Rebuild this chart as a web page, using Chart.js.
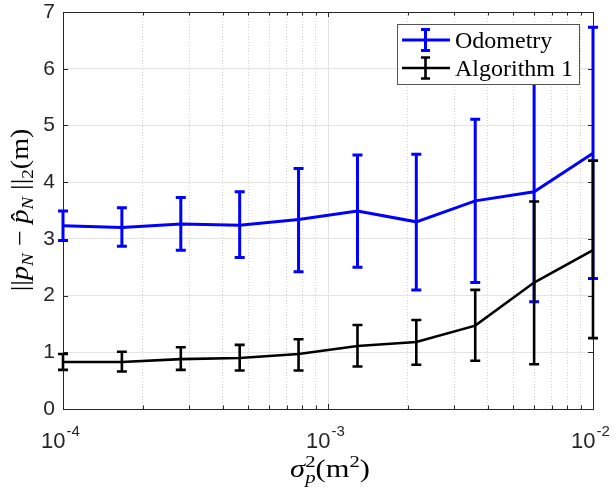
<!DOCTYPE html>
<html>
<head>
<meta charset="utf-8">
<script src="https://cdn.jsdelivr.net/npm/chart.js@4.4.1/dist/chart.umd.min.js"></script>
<style>
  html, body { margin: 0; padding: 0; background: #fff; }
</style>
</head>
<body>
<canvas id="chart" width="616" height="488"></canvas>
<script>
// position noise variance (x axis)
const sigmaP2 = [1e-4, 1.668e-4, 2.783e-4, 4.642e-4, 7.743e-4, 1.292e-3, 2.154e-3, 3.594e-3, 5.995e-3, 1e-2];

const seriesNames = ["Odometry", "Algorithm 1"];

// Odometry: mean and error bar ends
const odoMean = [3.23, 3.20, 3.26, 3.24, 3.34, 3.49, 3.30, 3.67, 3.83, 4.51];
const odoLow  = [2.97, 2.87, 2.80, 2.67, 2.42, 2.50, 2.10, 2.23, 1.89, 2.30];
const odoHigh = [3.49, 3.55, 3.73, 3.83, 4.24, 4.48, 4.49, 5.11, 5.77, 6.73];

// Algorithm 1: mean and error bar ends
const algMean = [0.83, 0.83, 0.88, 0.90, 0.97, 1.11, 1.18, 1.47, 2.23, 2.80];
const algLow  = [0.69, 0.66, 0.69, 0.68, 0.68, 0.75, 0.78, 0.85, 0.79, 1.25];
const algHigh = [0.97, 1.01, 1.09, 1.13, 1.23, 1.48, 1.57, 2.10, 3.66, 4.38];

// ticks
const xGridValues = [1e-4, 2e-4, 3e-4, 4e-4, 5e-4, 6e-4, 7e-4, 8e-4, 9e-4,
                     1e-3, 2e-3, 3e-3, 4e-3, 5e-3, 6e-3, 7e-3, 8e-3, 9e-3, 1e-2];
const xTickValues = [1e-4, 1e-3, 1e-2];
const xTickExps = ["-4", "-3", "-2"];
const yTicks = [0, 1, 2, 3, 4, 5, 6, 7];

const BLUE = "#0000ff";
const BLACK = "#000000";
const AXIS = "#262626";
const SERIF = "'Liberation Serif', 'DejaVu Serif', serif";
const SANS = "'Liberation Sans', Arial, sans-serif";

function isMajor(v) {
  const l = Math.log10(v);
  return Math.abs(l - Math.round(l)) < 1e-9;
}

// draw a run of text pieces: [text, size, italic, dy, "stack"?]
// stretch widens the run a bit, the math font in the picture is wider than Times
function richText(ctx, parts, x, y, stretch) {
  let total = 0;
  parts.forEach(p => {
    ctx.font = (p[2] ? "italic " : "") + p[1] + "px " + SERIF;
    p.w = p[4] === "stack" ? 0 : ctx.measureText(p[0]).width;
    total += p.w;
  });
  ctx.save();
  ctx.translate(x, y);
  ctx.scale(stretch, 1);
  let cx = -total / 2;
  ctx.textAlign = "left";
  ctx.textBaseline = "alphabetic";
  parts.forEach(p => {
    ctx.font = (p[2] ? "italic " : "") + p[1] + "px " + SERIF;
    ctx.fillText(p[0], cx, p[3]);
    cx += p.w;
  });
  ctx.restore();
}

function errorBars(ctx, meta, lows, highs, yScale, color, width) {
  ctx.save();
  ctx.strokeStyle = color;
  ctx.lineWidth = width;
  ctx.lineCap = "butt";
  meta.data.forEach((pt, i) => {
    const y1 = yScale.getPixelForValue(lows[i]);
    const y2 = yScale.getPixelForValue(highs[i]);
    ctx.beginPath();
    ctx.moveTo(pt.x, y1); ctx.lineTo(pt.x, y2);
    ctx.moveTo(pt.x - 5, y1); ctx.lineTo(pt.x + 5, y1);
    ctx.moveTo(pt.x - 5, y2); ctx.lineTo(pt.x + 5, y2);
    ctx.stroke();
  });
  ctx.restore();
}

const decor = {
  id: "decor",
  beforeDatasetsDraw(chart) {
    const { ctx, chartArea: a, scales } = chart;
    ctx.save();
    ctx.strokeStyle = AXIS;
    ctx.lineWidth = 1;
    ctx.beginPath();
    yTicks.forEach(v => {
      const y = Math.round(scales.y.getPixelForValue(v)) + 0.5;
      ctx.moveTo(a.left, y); ctx.lineTo(a.left + 5, y);
      ctx.moveTo(a.right, y); ctx.lineTo(a.right - 5, y);
    });
    xGridValues.forEach(v => {
      const x = Math.round(scales.x.getPixelForValue(v)) + 0.5;
      const len = isMajor(v) ? 5 : 3.5;
      ctx.moveTo(x, a.bottom); ctx.lineTo(x, a.bottom - len);
      ctx.moveTo(x, a.top); ctx.lineTo(x, a.top + len);
    });
    ctx.stroke();
    ctx.strokeRect(Math.round(a.left) + 0.5, Math.round(a.top) + 0.5,
                   Math.round(a.right - a.left), Math.round(a.bottom - a.top));
    ctx.restore();
  },
  afterDatasetDraw(chart, args) {
    const yScale = chart.scales.y;
    if (args.index === 0) errorBars(chart.ctx, args.meta, odoLow, odoHigh, yScale, BLUE, 3);
    else errorBars(chart.ctx, args.meta, algLow, algHigh, yScale, BLACK, 2.6);
  },
  afterDraw(chart) {
    const { ctx, scales } = chart;
    ctx.save();
    ctx.fillStyle = AXIS;

    // x tick labels 10^n
    xTickValues.forEach((v, i) => {
      const x = scales.x.getPixelForValue(v) - 3;
      ctx.font = "22px " + SANS;
      const w1 = ctx.measureText("10").width;
      ctx.font = "15px " + SANS;
      const w2 = ctx.measureText(xTickExps[i]).width;
      const x0 = x - (w1 + w2) / 2;
      ctx.textAlign = "left";
      ctx.textBaseline = "alphabetic";
      ctx.font = "22px " + SANS;
      ctx.fillText("10", x0, 448);
      ctx.font = "15px " + SANS;
      ctx.fillText(xTickExps[i], x0 + w1 + 1, 436);
    });

    // x axis title: sigma_p^2 (m^2)
    ctx.fillStyle = BLACK;
    const xt = [["σ", 25, true, 0], ["2", 17, false, -10, "stack"], ["p", 17, true, 6],
                ["(m", 25, false, 0], ["2", 17, false, -10], [")", 25, false, 0]];
    richText(ctx, xt, 330, 477, 1.22);

    // y axis title: ||p_N - p^_N||_2 (m)
    ctx.save();
    ctx.translate(28, 210);
    ctx.rotate(-Math.PI / 2);
    const yt = [["||", 25, false, 0], ["p", 25, true, 0], ["N", 17, true, 5],
                [" − ", 25, false, 0], ["p̂", 25, true, 0], ["N", 17, true, 5],
                [" ||", 25, false, 0], ["2", 17, false, 5], ["(m)", 25, false, 0]];
    richText(ctx, yt, 0, 0, 1.12);
    ctx.restore();

    // legend
    const lx = 397, ly = 24, lw = 182, lh = 60;
    ctx.fillStyle = "#fff";
    ctx.fillRect(lx, ly, lw, lh);
    ctx.strokeStyle = "#555";
    ctx.lineWidth = 1;
    ctx.strokeRect(lx + 0.5, ly + 0.5, lw, lh);
    [[BLUE, 40, 3], [BLACK, 68, 2.6]].forEach((r, i) => {
      ctx.strokeStyle = r[0];
      ctx.lineWidth = r[2];
      ctx.beginPath();
      ctx.moveTo(402, r[1]); ctx.lineTo(450, r[1]);
      ctx.moveTo(425.5, r[1] - 10.5); ctx.lineTo(425.5, r[1] + 10.5);
      ctx.moveTo(421, r[1] - 10.5); ctx.lineTo(430, r[1] - 10.5);
      ctx.moveTo(421, r[1] + 10.5); ctx.lineTo(430, r[1] + 10.5);
      ctx.stroke();
      ctx.fillStyle = BLACK;
      ctx.font = "24px " + SERIF;
      ctx.textAlign = "left";
      ctx.textBaseline = "alphabetic";
      ctx.fillText(seriesNames[i], 455, r[1] + 7.5);
    });
    ctx.restore();
  }
};

new Chart(document.getElementById("chart"), {
  type: "line",
  data: {
    datasets: [
      {
        label: seriesNames[0],
        data: sigmaP2.map((x, i) => ({ x: x, y: odoMean[i] })),
        borderColor: BLUE,
        borderWidth: 3,
        pointRadius: 0,
        tension: 0,
        clip: false,
        order: 1
      },
      {
        label: seriesNames[1],
        data: sigmaP2.map((x, i) => ({ x: x, y: algMean[i] })),
        borderColor: BLACK,
        borderWidth: 2.6,
        pointRadius: 0,
        tension: 0,
        clip: false,
        order: 0
      }
    ]
  },
  options: {
    responsive: false,
    animation: false,
    layout: { padding: { top: 12, right: 23, bottom: 0, left: 0 } },
    plugins: { legend: { display: false }, tooltip: { enabled: false } },
    scales: {
      x: {
        type: "logarithmic",
        min: 1e-4,
        max: 1e-2,
        afterBuildTicks: s => { s.ticks = xGridValues.map(v => ({ value: v, major: isMajor(v) })); },
        afterFit: s => { s.height = 79; s.paddingLeft = 0; s.paddingRight = 0; },
        ticks: { display: false },
        grid: {
          drawTicks: false,
          lineWidth: 1,
          color: c => (c.tick && isMajor(c.tick.value)) ? "#e2e2e2" : "#d4d4d4"
        },
        border: {
          display: false,
          dash: c => (c.tick && !isMajor(c.tick.value)) ? [1, 2] : []
        }
      },
      y: {
        min: 0,
        max: 7,
        afterBuildTicks: s => { s.ticks = yTicks.map(v => ({ value: v })); },
        afterFit: s => { s.width = 63; s.paddingTop = 0; s.paddingBottom = 0; },
        ticks: {
          padding: 8,
          color: AXIS,
          font: { family: "'Liberation Sans', Arial, sans-serif", size: 21 }
        },
        grid: { drawTicks: false, color: "#e4e4e4", lineWidth: 1 },
        border: { display: false }
      }
    }
  },
  plugins: [decor]
});
</script>
</body>
</html>
